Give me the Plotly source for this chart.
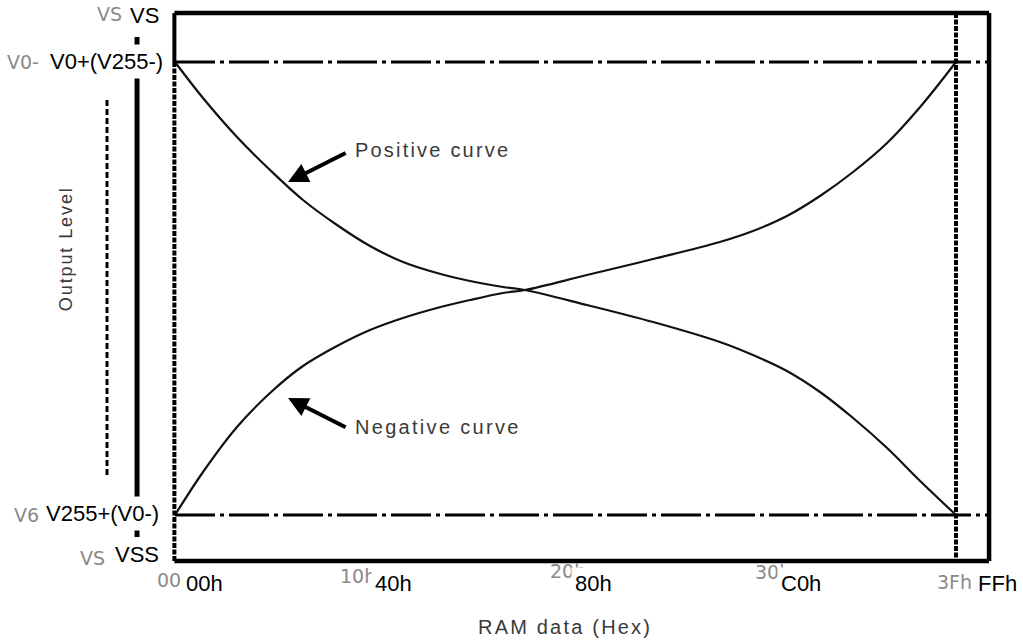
import plotly.graph_objects as go

# ---------------- data ----------------
# RAM data code (0..255) and normalised output level (0 = V255/V0-, 1 = V0/V255-)
ram_x = [0, 9.14, 20.24, 31.02, 41.79, 52.89, 63.67, 74.44, 85.55, 96.32, 107.1, 114.3,
         134.5, 156.1, 177.9, 188.7, 199.8, 210.6, 221.4, 232.5, 243.3, 255]
pos_y = [1.0, 0.9205, 0.8344, 0.7616, 0.6954, 0.6402, 0.5938, 0.5585, 0.5342, 0.5166, 0.5033,
         0.4967, 0.4636, 0.4260, 0.3819, 0.3532, 0.3179, 0.2715, 0.2141, 0.1479, 0.0751, 0.0]
neg_y = [0.0, 0.0949, 0.1943, 0.2693, 0.3289, 0.3731, 0.4084, 0.4349, 0.4570, 0.4746, 0.4901,
         0.4967, 0.5298, 0.5651, 0.6026, 0.6269, 0.6600, 0.7042, 0.7572, 0.8212, 0.9007, 1.0]

x_labels_old = ["00h", "10h", "20h", "30h", "3Fh"]
x_labels_new = ["00h", "40h", "80h", "C0h", "FFh"]
y_labels_old = ["VS", "V0-", "V6", "VS"]
y_labels_new = ["VS", "V0+(V255-)", "V255+(V0-)", "VSS"]

# ---------------- layout positions (data units) ----------------
x_old_pos = [-6.5, 53.2, 121.8, 188.7, 248.1]
x_old_y = [-0.143, -0.135, -0.124, -0.126, -0.148]
x_new_pos = [9.5, 71.5, 136.5, 204.4, 268.4]
x_new_y = -0.152
y_old_x = [-26.1, -55.5, -53.2, -31.7]
y_old_pos = [1.106, 1.0, 0.0, -0.095]
y_new_x = [-9.8, -22.5, -23.8, -12.4]
y_new_pos = [1.102, 1.002, 0.004, -0.088]

BOX_L, BOX_R, BOX_T, BOX_B = -0.2, 265.8, 1.108, -0.1015

fig = go.Figure()
fig.add_trace(go.Scatter(x=ram_x, y=pos_y, mode="lines", name="Positive curve",
                         line=dict(color="#111111", width=2.2, shape="spline", smoothing=1.0),
                         hoverinfo="skip", showlegend=False))
fig.add_trace(go.Scatter(x=ram_x, y=neg_y, mode="lines", name="Negative curve",
                         line=dict(color="#111111", width=2.2, shape="spline", smoothing=1.0),
                         hoverinfo="skip", showlegend=False))

shapes = []
def seg(x0, y0, x1, y1, w, dash="solid", color="black"):
    shapes.append(dict(type="line", xref="x", yref="y", x0=x0, y0=y0, x1=x1, y1=y1,
                       line=dict(color=color, width=w, dash=dash)))

# frame
seg(BOX_L, BOX_T, BOX_R, BOX_T, 4.5)
seg(BOX_R, BOX_T, BOX_R, BOX_B, 4.5)
seg(BOX_L, BOX_B, BOX_R, BOX_B, 4.5)
seg(BOX_L, BOX_T, BOX_L, 1.0, 4)
seg(BOX_L, 1.0, BOX_L, BOX_B, 4, dash="5px,1.5px")
# right dashed limit (3Fh / FFh)
seg(255, BOX_T, 255, BOX_B, 4, dash="5px,1.5px")
# V0 / V255 dash-dot levels
seg(0, 1.0, BOX_R, 1.0, 3, dash="40px,5px,4px,5px")
seg(0, 0.0, BOX_R, 0.0, 3, dash="40px,5px,4px,5px")
# output level bars on the left
seg(-12.4, 1.055, -12.4, -0.0486, 5)
seg(-22.2, 0.916, -22.2, 0.082, 3, dash="6px,3px")

annotations = []
# old (grey) labels
for t, x, y in zip(x_labels_old, x_old_pos, x_old_y):
    annotations.append(dict(x=x, y=y, xref="x", yref="y", text=t, showarrow=False,
                            xanchor="left", yanchor="middle",
                            font=dict(family="DejaVu Sans", size=19, color="#8a8a8a")))
for t, x, y in zip(y_labels_old, y_old_x, y_old_pos):
    annotations.append(dict(x=x, y=y, xref="x", yref="y", text=t, showarrow=False,
                            xanchor="left", yanchor="middle",
                            font=dict(family="DejaVu Sans", size=19, color="#8a8a8a")))
# new (black) labels with white background
for t, x in zip(x_labels_new, x_new_pos):
    annotations.append(dict(x=x, y=x_new_y, xref="x", yref="y", text=t, showarrow=False,
                            xanchor="center", yanchor="middle", bgcolor="white", borderpad=3,
                            font=dict(family="Arial, Liberation Sans", size=22, color="black")))
for t, x, y in zip(y_labels_new, y_new_x, y_new_pos):
    annotations.append(dict(x=x, y=y, xref="x", yref="y", text=t, showarrow=False,
                            xanchor="center", yanchor="middle", bgcolor="white", borderpad=4,
                            font=dict(family="Arial, Liberation Sans", size=22, color="black")))

# curve captions and arrows
cap_font = dict(family="Arial, Liberation Sans", size=20, color="#3a3a3a")
annotations.append(dict(x=58.1, y=0.806, xref="x", yref="y", showarrow=False,
                        text='<span style="letter-spacing:2.2px">Positive curve</span>',
                        xanchor="left", yanchor="middle", font=cap_font))
annotations.append(dict(x=58.1, y=0.194, xref="x", yref="y", showarrow=False,
                        text='<span style="letter-spacing:2.3px">Negative curve</span>',
                        xanchor="left", yanchor="middle", font=cap_font))
annotations.append(dict(x=36.9, y=0.735, ax=56.2, ay=0.801, xref="x", yref="y",
                        axref="x", ayref="y", text="", showarrow=True,
                        arrowhead=2, arrowsize=1.0, arrowwidth=4, arrowcolor="black"))
annotations.append(dict(x=36.9, y=0.258, ax=56.2, ay=0.192, xref="x", yref="y",
                        axref="x", ayref="y", text="", showarrow=True,
                        arrowhead=2, arrowsize=1.0, arrowwidth=4, arrowcolor="black"))
# axis titles
annotations.append(dict(x=127.3, y=-0.247, xref="x", yref="y", showarrow=False,
                        text='<span style="letter-spacing:2.2px">RAM data (Hex)</span>',
                        xanchor="center", yanchor="middle", font=cap_font))
annotations.append(dict(x=-35.6, y=0.589, xref="x", yref="y", showarrow=False, textangle=-90,
                        text='<span style="letter-spacing:1.9px">Output Level</span>',
                        xanchor="center", yanchor="middle",
                        font=dict(family="Arial, Liberation Sans", size=18, color="#3a3a3a")))

fig.update_layout(
    width=1023, height=644, autosize=False,
    margin=dict(l=0, r=0, t=0, b=0),
    paper_bgcolor="white", plot_bgcolor="white",
    xaxis=dict(range=[-57.14, 276.88], visible=False, fixedrange=True),
    yaxis=dict(range=[-0.2848, 1.1369], visible=False, fixedrange=True),
    shapes=shapes, annotations=annotations, showlegend=False,
)
fig.write_html("out.html", config={"displayModeBar": False},
               post_script="document.body.style.margin='0';document.body.style.overflow='hidden';")
